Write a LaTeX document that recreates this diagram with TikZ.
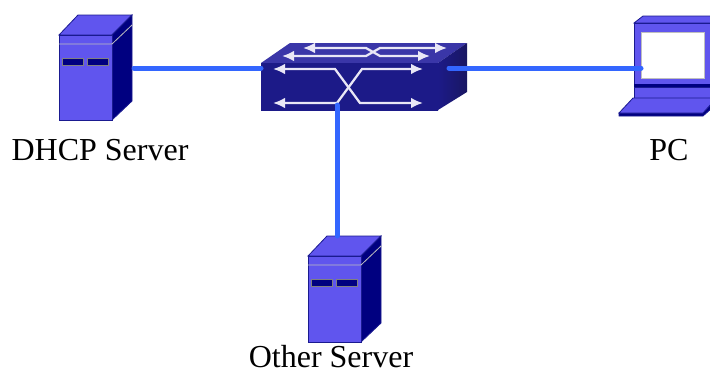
\documentclass[tikz,border=0pt]{standalone}
\usepackage{fontspec}
\setmainfont{Liberation Serif}
\usepackage{xcolor}
\usetikzlibrary{arrows.meta}
\definecolor{boxface}{HTML}{6055EE}
\definecolor{boxdark}{HTML}{000080}
\definecolor{boxedge}{HTML}{1A1A90}
\definecolor{swfront}{HTML}{2010A8}
\definecolor{swfrontend}{HTML}{1C1A88}
\definecolor{swtop}{HTML}{3A36A8}
\definecolor{swside}{HTML}{24208C}
\definecolor{linkblue}{HTML}{3366FF}

\begin{document}
\begin{tikzpicture}[x=0.75pt,y=-0.75pt]

    \tikzstyle{face}=[fill=boxface,draw=boxedge,line width=0.6pt]
    \tikzstyle{dark}=[fill=boxdark,draw=boxedge,line width=0.6pt]
    \tikzstyle{slot}=[fill=boxdark,draw=gray,line width=0.6pt]
    \tikzstyle{swarrow}=[draw=white!90!swfront,line width=1.7pt,{Latex[length=9pt,width=8pt]}-{Latex[length=9pt,width=8pt]}]
    \tikzstyle{link}=[draw=linkblue,line width=3.75pt,line cap=round]
    \tikzstyle{caption}=[font=\fontsize{24pt}{24pt}\selectfont,inner sep=0pt,anchor=base]

    \useasboundingbox (0,0) rectangle (710,371);

    \tikzset{
        server/.pic={
            \draw[face] (0,20) -- (19,0) -- (73,0) -- (53,20) -- cycle;
            \draw[dark] (53,20) -- (73,0) -- (73,#1-19) -- (53,#1) -- cycle;
            \draw[face] (0,20) rectangle (53,#1);
            \draw[draw=lightgray,line width=0.6pt] (0,29) -- (53,29) -- (73,10);
            \draw[slot] (3,43) rectangle (24,50);
            \draw[slot] (28,43) rectangle (49,50);
            \coordinate (-side) at (75,53);
            \coordinate (-top) at (29,0);
        }
    }

    %% devices
    \pic (dhcp) at (59,15) {server=105};
    \pic (other) at (308,236) {server=106};

    %% switch
    \fill[swtop] (261,63) -- (290,43) -- (467,43) -- (438,63) -- cycle;
    \shade[left color=swfrontend,right color=swside!70!black] (438,63) -- (467,43) -- (467,92) -- (438,110) -- cycle;
    \shade[left color=swfrontend,middle color=swfront,right color=swfrontend] (261,63) rectangle (438,110);
    \draw[swarrow] (303,48) -- (366,48) -- (380,56) -- (430,56);
    \draw[swarrow] (282,56) -- (366,56) -- (380,48) -- (447,48);
    \draw[swarrow] (273,69) -- (335,69) -- (360,103) -- (423,103);
    \draw[swarrow] (273,103) -- (337,103) -- (362,69) -- (423,69);
    \coordinate (swleft) at (261,68);
    \coordinate (swright) at (449,68);
    \coordinate (swbottom) at (337,105);

    %% pc
    \draw[face] (634,23) -- (643,16) -- (712,16) -- (712,23) -- cycle;
    \draw[face] (634,23) rectangle (712,84);
    \fill[white,draw=lightgray,line width=0.6pt] (641,32) rectangle (704,78);
    \fill[boxdark] (634,84) rectangle (712,87);
    \draw[face] (634,87) rectangle (712,98);
    \draw[dark] (619,113) -- (703,113) -- (712,103) -- (712,108) -- (703,116) -- (619,116) -- cycle;
    \draw[face] (619,113) -- (633,98) -- (712,98) -- (712,103) -- (703,113) -- cycle;
    \coordinate (pcscreen) at (641,68);

    \draw[link] (dhcp-side) -- (swleft);
    \draw[link] (swright) -- (pcscreen);
    \draw[link] (swbottom) -- (other-top);

    \node[caption] (dhcplabel) at (100,160) {DHCP Server};
    \node[caption] (pclabel) at (669,160) {PC};
    \node[caption] (otherlabel) at (331,367) {Other Server};

\end{tikzpicture}
\end{document}
